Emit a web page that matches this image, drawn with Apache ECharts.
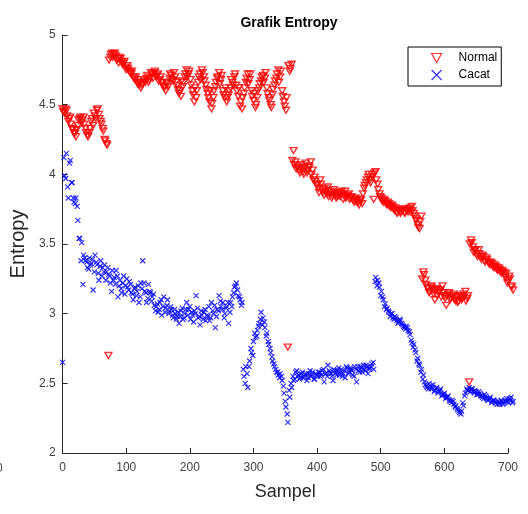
<!DOCTYPE html>
<html>
<head>
<meta charset="utf-8">
<script src="https://cdn.jsdelivr.net/npm/echarts@6/dist/echarts.min.js"></script>
<style>
html,body{margin:0;padding:0;background:#fff;}
#chart{width:528px;height:514px;}
</style>
</head>
<body>
<div id="chart"></div>
<script>
// Values read every 3rd sample; "A" arrays start at sample 0, "B" arrays at sample 1 (Normal) / 2 (Cacat)
const sampleStep = 3;
const normalStartA = 0, normalStartB = 1;
const cacatStartA = 0, cacatStartB = 2;

const normalValuesA = [
4.47,4.44,4.46,4.38,4.41,4.33,4.30,4.27,4.35,4.40,
4.37,4.41,4.33,4.28,4.30,4.38,4.35,4.42,4.46,4.43,
4.38,4.33,4.25,4.22,2.70,4.84,4.87,4.86,4.85,4.83,
4.84,4.81,4.80,4.77,4.78,4.74,4.72,4.70,4.68,4.66,
4.64,4.62,4.65,4.67,4.69,4.66,4.70,4.72,4.73,4.70,
4.72,4.68,4.66,4.63,4.60,4.65,4.69,4.71,4.67,4.70,
4.64,4.58,4.56,4.63,4.70,4.75,4.72,4.68,4.60,4.52,
4.55,4.66,4.72,4.75,4.70,4.64,4.58,4.52,4.47,4.55,
4.63,4.69,4.73,4.68,4.60,4.55,4.52,4.57,4.62,4.66,
4.70,4.64,4.56,4.49,4.47,4.58,4.66,4.72,4.68,4.60,
4.53,4.48,4.55,4.62,4.67,4.71,4.69,4.62,4.55,4.50,
4.57,4.64,4.69,4.75,4.70,4.60,4.52,4.46,2.76,4.74,
4.79,4.17,4.09,4.05,4.03,4.07,4.02,4.05,4.01,4.06,
4.09,4.03,3.98,3.93,3.90,3.96,3.89,3.85,3.88,3.91,
3.86,3.83,3.89,3.85,3.84,3.87,3.86,3.82,3.88,3.84,
3.86,3.83,3.82,3.80,3.82,3.80,3.81,3.79,3.90,3.94,
3.98,3.96,4.00,3.82,4.02,3.93,3.86,3.83,3.80,3.81,
3.78,3.79,3.76,3.77,3.74,3.73,3.75,3.72,3.74,3.73,
3.75,3.73,3.76,3.77,3.72,3.68,3.64,3.61,3.70,3.30,
3.24,3.19,3.15,3.20,3.17,3.10,3.18,3.15,3.17,3.20,
3.13,3.06,3.14,3.10,3.12,3.14,3.09,3.08,3.12,3.10,
3.14,3.16,3.11,2.51,3.53,3.48,3.45,3.43,3.46,3.41,
3.42,3.38,3.40,3.37,3.35,3.36,3.33,3.34,3.31,3.32,
3.29,3.30,3.26,3.22,3.27,3.20,3.17
];

const normalValuesB = [
4.45,4.47,4.42,4.40,4.36,4.32,4.29,4.32,4.39,4.41,
4.39,4.36,4.30,4.27,4.33,4.40,4.44,4.40,4.47,4.40,
4.36,4.31,4.24,4.21,4.82,4.86,4.84,4.87,4.82,4.80,
4.83,4.79,4.81,4.75,4.76,4.73,4.74,4.69,4.70,4.65,
4.66,4.64,4.68,4.66,4.71,4.68,4.73,4.69,4.74,4.71,
4.67,4.70,4.64,4.62,4.66,4.63,4.72,4.68,4.73,4.66,
4.61,4.60,4.67,4.66,4.72,4.70,4.74,4.64,4.57,4.62,
4.60,4.70,4.68,4.73,4.67,4.61,4.55,4.60,4.51,4.60,
4.66,4.70,4.65,4.71,4.57,4.62,4.55,4.60,4.68,4.64,
4.72,4.60,4.62,4.52,4.55,4.62,4.69,4.65,4.72,4.56,
4.58,4.50,4.60,4.65,4.70,4.66,4.73,4.58,4.53,4.48,
4.61,4.67,4.72,4.66,4.74,4.56,4.49,4.55,4.78,4.76,
4.10,4.07,4.04,4.06,4.01,4.04,4.00,4.08,4.03,4.05,
4.00,3.96,3.95,3.92,3.87,3.93,3.87,3.90,3.86,3.84,
3.88,3.85,3.87,3.83,3.86,3.84,3.88,3.85,3.83,3.85,
3.82,3.84,3.81,3.83,3.80,3.78,3.82,3.86,3.92,3.96,
4.00,3.94,3.98,4.01,3.96,3.89,3.84,3.81,3.82,3.79,
3.80,3.77,3.78,3.75,3.76,3.72,3.74,3.73,3.75,3.72,
3.74,3.75,3.73,3.74,3.70,3.67,3.62,3.66,3.25,3.28,
3.21,3.18,3.16,3.19,3.14,3.17,3.13,3.16,3.12,3.15,
3.11,3.13,3.15,3.11,3.13,3.10,3.12,3.09,3.13,3.11,
3.12,3.09,3.13,3.50,3.51,3.44,3.46,3.41,3.43,3.39,
3.41,3.37,3.39,3.36,3.37,3.34,3.35,3.32,3.33,3.30,
3.31,3.28,3.29,3.24,3.25,3.19
];

const cacatValuesA = [
2.65,3.99,4.15,3.83,4.10,3.94,3.80,3.83,3.67,3.54,
3.51,3.42,3.38,3.33,3.40,3.36,3.17,3.42,3.35,3.24,
3.38,3.33,3.35,3.30,3.28,3.22,3.31,3.26,3.31,3.12,
3.24,3.15,3.27,3.20,3.19,3.23,3.15,3.10,3.19,3.16,
3.08,3.22,3.38,3.16,3.08,3.21,3.15,3.12,3.06,3.05,
3.01,3.08,2.99,3.12,3.04,3.10,3.02,3.03,2.97,3.00,
2.98,2.93,3.02,2.96,3.00,3.08,3.03,2.96,2.99,3.02,
3.13,2.97,2.92,2.99,3.01,2.95,2.98,2.95,3.08,3.00,
2.90,3.03,3.13,3.05,3.08,3.00,3.05,2.93,3.08,3.12,
3.19,3.22,3.13,3.10,3.08,2.55,2.62,2.47,2.66,2.72,
2.80,2.83,2.88,2.93,3.01,2.97,2.90,2.86,2.78,2.72,
2.66,2.62,2.58,2.56,2.57,2.52,2.43,2.33,2.22,2.40,
2.47,2.52,2.58,2.55,2.53,2.57,2.54,2.56,2.52,2.57,
2.55,2.58,2.53,2.56,2.58,2.55,2.59,2.51,2.57,2.63,
2.58,2.55,2.60,2.57,2.59,2.56,2.60,2.57,2.54,2.61,
2.58,2.60,2.56,2.62,2.51,2.59,2.62,2.58,2.60,2.63,
2.57,2.61,2.64,2.60,3.26,3.24,3.19,3.16,3.10,3.07,
3.04,3.01,3.00,2.97,2.98,2.95,2.94,2.95,2.92,2.90,
2.91,2.88,2.85,2.79,2.78,2.72,2.68,2.63,2.60,2.56,
2.49,2.47,2.50,2.46,2.49,2.45,2.47,2.44,2.46,2.42,
2.43,2.40,2.41,2.37,2.38,2.35,2.34,2.31,2.29,2.30,
2.34,2.43,2.45,2.47,2.46,2.44,2.45,2.42,2.44,2.41,
2.40,2.42,2.39,2.38,2.40,2.37,2.38,2.36,2.37,2.35,
2.37,2.36,2.38,2.37,2.39,2.40,2.37
];

const cacatValuesB = [
4.12,3.97,3.91,4.08,3.94,3.83,3.79,3.77,3.54,3.38,
3.21,3.40,3.37,3.32,3.35,3.39,3.30,3.37,3.29,3.34,
3.27,3.30,3.24,3.33,3.27,3.16,3.24,3.21,3.27,3.20,
3.18,3.22,3.14,3.25,3.17,3.21,3.14,3.18,3.13,3.20,
3.12,3.18,3.22,3.15,3.11,3.16,3.09,3.14,3.02,3.07,
3.03,3.10,3.05,3.01,3.06,3.00,3.05,2.99,3.03,2.96,
3.01,2.98,3.04,2.97,3.03,2.99,3.05,3.01,2.94,3.00,
3.04,2.98,3.02,2.96,3.03,2.99,3.05,2.97,3.02,3.06,
2.98,3.02,3.09,3.03,2.97,3.04,3.08,3.01,3.05,3.15,
3.20,3.17,3.12,3.06,2.60,2.50,2.57,2.62,2.75,2.70,
2.86,2.84,2.91,2.96,2.92,2.94,2.84,2.80,2.75,2.69,
2.64,2.60,2.58,2.54,2.55,2.48,2.37,2.28,2.45,2.50,
2.55,2.53,2.59,2.56,2.54,2.58,2.55,2.57,2.54,2.59,
2.56,2.53,2.57,2.55,2.58,2.56,2.60,2.57,2.55,2.59,
2.57,2.52,2.59,2.56,2.61,2.58,2.55,2.59,2.62,2.57,
2.61,2.59,2.55,2.60,2.62,2.58,2.61,2.63,2.59,2.62,
2.60,2.62,2.65,3.23,3.20,3.22,3.13,3.12,3.05,3.03,
3.02,2.98,3.00,2.96,2.97,2.93,2.96,2.93,2.91,2.89,
2.90,2.87,2.81,2.76,2.74,2.66,2.64,2.58,2.53,2.51,
2.48,2.46,2.48,2.47,2.44,2.46,2.43,2.45,2.41,2.42,
2.39,2.40,2.38,2.36,2.37,2.33,2.32,2.30,2.28,2.36,
2.41,2.46,2.45,2.44,2.46,2.43,2.44,2.42,2.43,2.41,
2.39,2.41,2.38,2.39,2.36,2.38,2.37,2.35,2.36,2.38,
2.35,2.37,2.39,2.36,2.38,2.36
];

const xTicks = [0,100,200,300,400,500,600,700];
const yTicks = [2,2.5,3,3.5,4,4.5,5];
const seriesNames = ['Normal','Cacat'];

function toPairs(vals, start){ return vals.map((v,i)=>[start + i*sampleStep, v]); }

const triDown = 'path://M0,0 L10,0 L5,9 Z';
const cross = 'path://M0,0 L10,10 M10,0 L0,10';

const chart = echarts.init(document.getElementById('chart'), null, {renderer:'canvas'});
const axisColor = '#262626';
const font = 'Liberation Sans, Arial, sans-serif';
chart.setOption({
  animation:false,
  backgroundColor:'#ffffff',
  title:{text:'Grafik Entropy', left:284, top:11, textAlign:'center',
    textStyle:{fontFamily:font, fontSize:14, fontWeight:'bold', color:'#000'}},
  legend:{
    orient:'vertical', left:408, top:47,
    itemWidth:10, itemHeight:10, itemGap:5,
    padding:[5,4,5,23],
    borderColor:'#000', borderWidth:1, backgroundColor:'#fff', borderRadius:0,
    textStyle:{fontFamily:font, fontSize:12, color:'#000', padding:[0,0,0,12]},
    data:[
      {name:seriesNames[0], icon:triDown, itemStyle:{color:'rgba(255,255,255,0)', borderColor:'#ff0000', borderWidth:1.2}},
      {name:seriesNames[1], icon:cross, itemStyle:{color:'rgba(255,255,255,0)', borderColor:'#0000ff', borderWidth:1.2}}
    ]
  },
  grid:{left:60, right:20, top:35, bottom:61, containLabel:false},
  xAxis:{
    type:'value', min:xTicks[0], max:xTicks[xTicks.length-1], interval:100,
    name:'Sampel', nameLocation:'middle', nameGap:30,
    nameTextStyle:{fontFamily:font, fontSize:18, color:axisColor},
    axisLine:{show:true, onZero:false, lineStyle:{color:axisColor, width:1}},
    axisTick:{show:true, inside:true, length:5, lineStyle:{color:axisColor}},
    axisLabel:{fontFamily:font, fontSize:12, color:'#404040', margin:9},
    splitLine:{show:false}
  },
  yAxis:{
    type:'value', min:yTicks[0], max:yTicks[yTicks.length-1], interval:0.5,
    name:'Entropy', nameLocation:'middle', nameGap:32,
    nameTextStyle:{fontFamily:font, fontSize:20, color:axisColor},
    axisLine:{show:true, onZero:false, lineStyle:{color:axisColor, width:1}},
    axisTick:{show:true, inside:true, length:5, lineStyle:{color:axisColor}},
    axisLabel:{fontFamily:font, fontSize:12, color:'#404040', margin:7},
    splitLine:{show:false}
  },
  graphic:[{type:'text', left:-4, top:463, style:{text:'0', font:'12px "Liberation Sans", Arial, sans-serif', fill:'#404040'}}],
  series:[
    {name:seriesNames[0], type:'scatter',
      data:toPairs(normalValuesA, normalStartA).concat(toPairs(normalValuesB, normalStartB)),
      symbol:triDown, symbolSize:[7,6], clip:false,
      itemStyle:{color:'rgba(255,255,255,0)', borderColor:'#ff0000', borderWidth:1.4}, emphasis:{disabled:true}},
    {name:seriesNames[1], type:'scatter',
      data:toPairs(cacatValuesA, cacatStartA).concat(toPairs(cacatValuesB, cacatStartB)),
      symbol:cross, symbolSize:5, clip:false,
      itemStyle:{color:'rgba(255,255,255,0)', borderColor:'#0000ff', borderWidth:1.2}, emphasis:{disabled:true}}
  ]
});
</script>
</body>
</html>
